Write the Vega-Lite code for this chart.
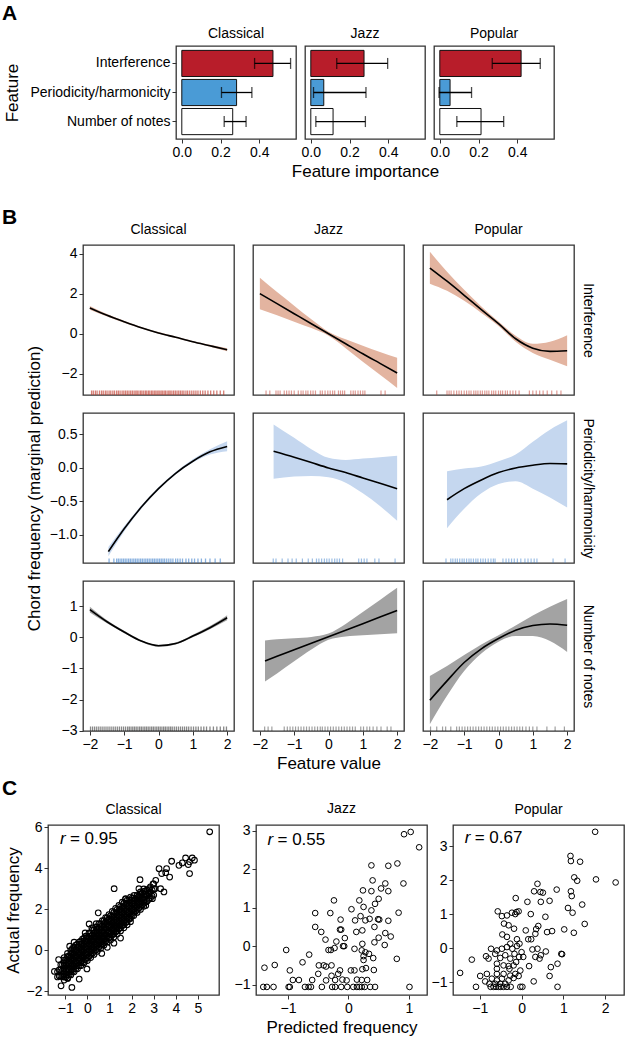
{
"$schema": "https://vega.github.io/schema/vega-lite/v6.json",
"padding": {"left": 2, "top": 3, "right": 0, "bottom": 0},
"background": "white",
"config": {
  "font": "Liberation Sans",
  "view": {"stroke": "#333333", "strokeWidth": 1.3},
  "axis": {"grid": false, "domain": false, "ticks": true, "tickColor": "#333333", "tickSize": 4, "tickWidth": 1, "labelFontSize": 14, "labelColor": "#000000", "labelPadding": 2, "titleFontSize": 17, "titleFontWeight": "normal", "titleColor": "#000000", "labelFlush": false, "labelOverlap": false},
  "title": {"fontSize": 14, "fontWeight": "normal", "offset": 5, "color": "#000000"}
},
"datasets": {
  "bars": [
    {"g":"Classical","f":"Interference","v":0.471,"lo":0.376,"hi":0.562},
    {"g":"Classical","f":"Periodicity/harmonicity","v":0.283,"lo":0.205,"hi":0.362},
    {"g":"Classical","f":"Number of notes","v":0.263,"lo":0.219,"hi":0.332},
    {"g":"Jazz","f":"Interference","v":0.275,"lo":0.134,"hi":0.397},
    {"g":"Jazz","f":"Periodicity/harmonicity","v":0.067,"lo":0.014,"hi":0.285},
    {"g":"Jazz","f":"Number of notes","v":0.115,"lo":0.026,"hi":0.282},
    {"g":"Popular","f":"Interference","v":0.42,"lo":0.271,"hi":0.519},
    {"g":"Popular","f":"Periodicity/harmonicity","v":0.053,"lo":-0.004,"hi":0.164},
    {"g":"Popular","f":"Number of notes","v":0.213,"lo":0.088,"hi":0.33}
  ],
  "cCI": [{"x":-2,"y":1.29,"lo":1.2,"hi":1.38},{"x":-1.5,"y":0.92,"lo":0.86,"hi":0.98},{"x":-1,"y":0.6,"lo":0.55,"hi":0.65},{"x":-0.5,"y":0.3,"lo":0.26,"hi":0.34},{"x":0,"y":0.04,"lo":0,"hi":0.08},{"x":0.5,"y":-0.18,"lo":-0.22,"hi":-0.14},{"x":1,"y":-0.4,"lo":-0.44,"hi":-0.36},{"x":1.5,"y":-0.6,"lo":-0.65,"hi":-0.55},{"x":2,"y":-0.8,"lo":-0.88,"hi":-0.72}],
  "cJI": [{"x":-2,"y":2.0,"lo":1.22,"hi":2.79},{"x":-1.5,"y":1.5,"lo":0.92,"hi":2.08},{"x":-1,"y":1.0,"lo":0.6,"hi":1.4},{"x":-0.5,"y":0.5,"lo":0.28,"hi":0.72},{"x":0,"y":0,"lo":-0.1,"hi":0.1},{"x":0.5,"y":-0.5,"lo":-0.72,"hi":-0.28},{"x":1,"y":-1.0,"lo":-1.4,"hi":-0.6},{"x":1.5,"y":-1.48,"lo":-2.05,"hi":-0.91},{"x":2,"y":-1.96,"lo":-2.71,"hi":-1.2}],
  "cPI": [{"x":-2,"y":3.28,"lo":2.5,"hi":4.09},{"x":-1.5,"y":2.62,"lo":2.14,"hi":3.1},{"x":-1,"y":1.92,"lo":1.64,"hi":2.2},{"x":-0.5,"y":1.2,"lo":1.04,"hi":1.36},{"x":0,"y":0.5,"lo":0.39,"hi":0.61},{"x":0.5,"y":-0.25,"lo":-0.4,"hi":-0.1},{"x":1,"y":-0.72,"lo":-0.96,"hi":-0.5},{"x":1.5,"y":-0.88,"lo":-1.3,"hi":-0.4},{"x":2,"y":-0.85,"lo":-1.62,"hi":-0.08}],
  "cCH": [{"x":-1.46,"y":-1.25,"lo":-1.32,"hi":-1.18},{"x":-1,"y":-0.91,"lo":-0.95,"hi":-0.87},{"x":-0.5,"y":-0.585,"lo":-0.61,"hi":-0.56},{"x":0,"y":-0.31,"lo":-0.33,"hi":-0.29},{"x":0.5,"y":-0.08,"lo":-0.1,"hi":-0.06},{"x":1,"y":0.1,"lo":0.08,"hi":0.13},{"x":1.5,"y":0.24,"lo":0.2,"hi":0.28},{"x":2,"y":0.32,"lo":0.25,"hi":0.4}],
  "cJH": [{"x":-1.6,"y":0.25,"lo":-0.16,"hi":0.65},{"x":-1,"y":0.16,"lo":-0.13,"hi":0.45},{"x":-0.5,"y":0.08,"lo":-0.12,"hi":0.28},{"x":0,"y":0.0,"lo":-0.14,"hi":0.15},{"x":0.5,"y":-0.07,"lo":-0.22,"hi":0.12},{"x":1,"y":-0.15,"lo":-0.38,"hi":0.14},{"x":1.5,"y":-0.23,"lo":-0.57,"hi":0.16},{"x":2,"y":-0.31,"lo":-0.79,"hi":0.18}],
  "cPH": [{"x":-1.5,"y":-0.475,"lo":-0.9,"hi":-0.05},{"x":-1,"y":-0.31,"lo":-0.61,"hi":-0.01},{"x":-0.5,"y":-0.18,"lo":-0.38,"hi":0.02},{"x":0,"y":-0.07,"lo":-0.24,"hi":0.1},{"x":0.5,"y":0.0,"lo":-0.2,"hi":0.2},{"x":1,"y":0.04,"lo":-0.31,"hi":0.39},{"x":1.5,"y":0.065,"lo":-0.44,"hi":0.57},{"x":2,"y":0.06,"lo":-0.59,"hi":0.71}],
  "cCN": [{"x":-2,"y":0.89,"lo":0.8,"hi":0.98},{"x":-1.5,"y":0.5,"lo":0.45,"hi":0.55},{"x":-1,"y":0.17,"lo":0.13,"hi":0.21},{"x":-0.5,"y":-0.12,"lo":-0.15,"hi":-0.09},{"x":0,"y":-0.27,"lo":-0.3,"hi":-0.24},{"x":0.5,"y":-0.2,"lo":-0.23,"hi":-0.17},{"x":1,"y":0.04,"lo":0.0,"hi":0.08},{"x":1.5,"y":0.31,"lo":0.26,"hi":0.36},{"x":2,"y":0.63,"lo":0.55,"hi":0.71}],
  "cJN": [{"x":-1.85,"y":-0.76,"lo":-1.42,"hi":-0.1},{"x":-1.5,"y":-0.61,"lo":-1.16,"hi":-0.06},{"x":-1,"y":-0.4,"lo":-0.77,"hi":-0.03},{"x":-0.5,"y":-0.19,"lo":-0.39,"hi":0.01},{"x":0,"y":0.02,"lo":-0.08,"hi":0.12},{"x":0.5,"y":0.23,"lo":0.03,"hi":0.43},{"x":1,"y":0.44,"lo":0.07,"hi":0.81},{"x":1.5,"y":0.65,"lo":0.1,"hi":1.2},{"x":2,"y":0.86,"lo":0.13,"hi":1.59}],
  "cPN": [{"x":-2,"y":-2.02,"lo":-2.79,"hi":-1.24},{"x":-1.5,"y":-1.4,"lo":-1.88,"hi":-0.92},{"x":-1,"y":-0.81,"lo":-1.08,"hi":-0.57},{"x":-0.5,"y":-0.37,"lo":-0.52,"hi":-0.23},{"x":0,"y":-0.04,"lo":-0.14,"hi":0.07},{"x":0.5,"y":0.23,"lo":0.04,"hi":0.38},{"x":1,"y":0.38,"lo":0.04,"hi":0.7},{"x":1.5,"y":0.43,"lo":-0.12,"hi":0.98},{"x":2,"y":0.39,"lo":-0.47,"hi":1.23}],
  "rCI": [{"x":-1.95},{"x":-1.9},{"x":-1.84},{"x":-1.79},{"x":-1.72},{"x":-1.66},{"x":-1.61},{"x":-1.55},{"x":-1.5},{"x":-1.44},{"x":-1.39},{"x":-1.33},{"x":-1.28},{"x":-1.22},{"x":-1.17},{"x":-1.12},{"x":-1.06},{"x":-1.01},{"x":-0.96},{"x":-0.91},{"x":-0.86},{"x":-0.81},{"x":-0.76},{"x":-0.71},{"x":-0.66},{"x":-0.62},{"x":-0.57},{"x":-0.52},{"x":-0.48},{"x":-0.43},{"x":-0.38},{"x":-0.34},{"x":-0.29},{"x":-0.25},{"x":-0.2},{"x":-0.16},{"x":-0.11},{"x":-0.07},{"x":-0.02},{"x":0.02},{"x":0.07},{"x":0.11},{"x":0.16},{"x":0.2},{"x":0.25},{"x":0.3},{"x":0.34},{"x":0.39},{"x":0.44},{"x":0.49},{"x":0.54},{"x":0.59},{"x":0.64},{"x":0.69},{"x":0.74},{"x":0.8},{"x":0.85},{"x":0.91},{"x":0.97},{"x":1.03},{"x":1.09},{"x":1.15},{"x":1.22},{"x":1.29},{"x":1.36},{"x":1.44},{"x":1.52},{"x":1.61},{"x":1.7},{"x":1.8},{"x":1.9}],
  "rCH": [{"x":-1.44},{"x":-1.3},{"x":-1.22},{"x":-1.17},{"x":-1.12},{"x":-1.07},{"x":-1.02},{"x":-0.97},{"x":-0.92},{"x":-0.87},{"x":-0.82},{"x":-0.77},{"x":-0.72},{"x":-0.67},{"x":-0.62},{"x":-0.57},{"x":-0.52},{"x":-0.47},{"x":-0.42},{"x":-0.37},{"x":-0.32},{"x":-0.27},{"x":-0.22},{"x":-0.17},{"x":-0.12},{"x":-0.07},{"x":-0.02},{"x":0.03},{"x":0.08},{"x":0.13},{"x":0.18},{"x":0.24},{"x":0.3},{"x":0.36},{"x":0.42},{"x":0.5},{"x":0.56},{"x":0.63},{"x":0.7},{"x":0.8},{"x":0.88},{"x":0.97},{"x":1.05},{"x":1.15},{"x":1.25},{"x":1.37},{"x":1.5},{"x":1.65},{"x":1.8}],
  "rCN": [{"x":-1.98},{"x":-1.92},{"x":-1.86},{"x":-1.8},{"x":-1.74},{"x":-1.68},{"x":-1.62},{"x":-1.56},{"x":-1.5},{"x":-1.44},{"x":-1.38},{"x":-1.32},{"x":-1.26},{"x":-1.2},{"x":-1.14},{"x":-1.08},{"x":-1.02},{"x":-0.96},{"x":-0.9},{"x":-0.85},{"x":-0.8},{"x":-0.75},{"x":-0.7},{"x":-0.65},{"x":-0.6},{"x":-0.55},{"x":-0.5},{"x":-0.45},{"x":-0.4},{"x":-0.35},{"x":-0.3},{"x":-0.25},{"x":-0.2},{"x":-0.15},{"x":-0.1},{"x":-0.05},{"x":0.0},{"x":0.05},{"x":0.1},{"x":0.15},{"x":0.2},{"x":0.25},{"x":0.3},{"x":0.35},{"x":0.4},{"x":0.46},{"x":0.52},{"x":0.58},{"x":0.64},{"x":0.7},{"x":0.76},{"x":0.82},{"x":0.88},{"x":0.95},{"x":1.02},{"x":1.09},{"x":1.16},{"x":1.24},{"x":1.32},{"x":1.4},{"x":1.5},{"x":1.6},{"x":1.7},{"x":1.8},{"x":1.9},{"x":1.98}],
  "rJI": [{"x":-1.82},{"x":-1.71},{"x":-1.53},{"x":-1.47},{"x":-1.41},{"x":-1.29},{"x":-1.22},{"x":-1.15},{"x":-1.08},{"x":-1.0},{"x":-0.88},{"x":-0.8},{"x":-0.74},{"x":-0.66},{"x":-0.6},{"x":-0.52},{"x":-0.45},{"x":-0.38},{"x":-0.24},{"x":-0.18},{"x":-0.1},{"x":-0.02},{"x":0.05},{"x":0.12},{"x":0.18},{"x":0.29},{"x":0.35},{"x":0.41},{"x":0.47},{"x":0.65},{"x":0.72},{"x":0.78},{"x":0.86},{"x":0.93},{"x":1.0},{"x":1.06},{"x":1.53},{"x":1.65}],
  "rJH": [{"x":-1.61},{"x":-1.53},{"x":-1.35},{"x":-1.18},{"x":-1.06},{"x":-0.94},{"x":-0.76},{"x":-0.59},{"x":-0.47},{"x":-0.35},{"x":-0.28},{"x":-0.2},{"x":-0.12},{"x":-0.05},{"x":0.02},{"x":0.1},{"x":0.18},{"x":0.25},{"x":0.32},{"x":0.41},{"x":0.88},{"x":0.96},{"x":1.04},{"x":1.12},{"x":1.35},{"x":1.47},{"x":1.94}],
  "rJN": [{"x":-1.86},{"x":-1.76},{"x":-1.65},{"x":-1.29},{"x":-1.2},{"x":-1.12},{"x":-1.04},{"x":-0.96},{"x":-0.88},{"x":-0.8},{"x":-0.72},{"x":-0.64},{"x":-0.56},{"x":-0.48},{"x":-0.4},{"x":-0.32},{"x":-0.24},{"x":-0.18},{"x":-0.1},{"x":-0.02},{"x":0.06},{"x":0.14},{"x":0.22},{"x":0.3},{"x":0.38},{"x":0.46},{"x":0.54},{"x":0.62},{"x":0.7},{"x":0.78},{"x":0.94},{"x":1.02},{"x":1.12},{"x":1.2},{"x":1.3},{"x":1.41},{"x":1.53},{"x":1.71},{"x":1.82}],
  "rPI": [{"x":-1.8},{"x":-1.5},{"x":-1.44},{"x":-1.38},{"x":-1.3},{"x":-1.22},{"x":-1.15},{"x":-1.08},{"x":-1.0},{"x":-0.93},{"x":-0.86},{"x":-0.8},{"x":-0.72},{"x":-0.66},{"x":-0.6},{"x":-0.53},{"x":-0.47},{"x":-0.4},{"x":-0.34},{"x":-0.28},{"x":-0.2},{"x":-0.14},{"x":-0.08},{"x":0.0},{"x":0.06},{"x":0.12},{"x":0.2},{"x":0.26},{"x":0.34},{"x":0.42},{"x":0.5},{"x":0.6},{"x":0.9},{"x":1.0},{"x":1.1},{"x":1.2},{"x":1.3},{"x":1.42},{"x":1.55},{"x":1.7},{"x":1.82}],
  "rPH": [{"x":-1.53},{"x":-1.39},{"x":-1.33},{"x":-1.26},{"x":-1.2},{"x":-1.13},{"x":-1.06},{"x":-1.0},{"x":-0.93},{"x":-0.86},{"x":-0.8},{"x":-0.73},{"x":-0.66},{"x":-0.6},{"x":-0.52},{"x":-0.45},{"x":-0.38},{"x":-0.3},{"x":-0.22},{"x":-0.15},{"x":-0.1},{"x":0.13},{"x":0.22},{"x":0.3},{"x":0.38},{"x":0.46},{"x":0.55},{"x":0.65},{"x":0.77},{"x":0.86},{"x":0.95},{"x":1.04},{"x":1.12},{"x":1.59},{"x":1.94}],
  "rPN": [{"x":-1.98},{"x":-1.8},{"x":-1.63},{"x":-1.54},{"x":-1.39},{"x":-1.22},{"x":-1.14},{"x":-1.06},{"x":-0.98},{"x":-0.9},{"x":-0.82},{"x":-0.74},{"x":-0.66},{"x":-0.58},{"x":-0.5},{"x":-0.42},{"x":-0.34},{"x":-0.26},{"x":-0.18},{"x":-0.1},{"x":-0.02},{"x":0.06},{"x":0.14},{"x":0.22},{"x":0.3},{"x":0.38},{"x":0.46},{"x":0.54},{"x":0.62},{"x":0.7},{"x":0.8},{"x":0.9},{"x":1.0},{"x":1.12},{"x":1.41},{"x":1.65},{"x":1.92}],
  "sC": [
    {"x":-1.35,"y":-1.3},{"x":-1.35,"y":-1.05},
    {"x":-1.2,"y":-1.25},{"x":-1.2,"y":-0.95},{"x":-1.2,"y":-0.7},
    {"x":-1.05,"y":-1.45},{"x":-1.05,"y":-1.15},{"x":-1.05,"y":-0.88},{"x":-1.05,"y":-0.6},{"x":-1.05,"y":-0.35},
    {"x":-0.9,"y":-1.35},{"x":-0.9,"y":-1.05},{"x":-0.9,"y":-0.74},{"x":-0.9,"y":-0.45},{"x":-0.9,"y":-0.15},
    {"x":-0.75,"y":-1.2},{"x":-0.75,"y":-0.9},{"x":-0.75,"y":-0.6},{"x":-0.75,"y":-0.3},{"x":-0.75,"y":0.0},
    {"x":-0.6,"y":-1.05},{"x":-0.6,"y":-0.75},{"x":-0.6,"y":-0.45},{"x":-0.6,"y":-0.15},{"x":-0.6,"y":0.15},
    {"x":-0.45,"y":-0.9},{"x":-0.45,"y":-0.6},{"x":-0.45,"y":-0.3},{"x":-0.45,"y":0.0},{"x":-0.45,"y":0.3},
    {"x":-0.3,"y":-0.75},{"x":-0.3,"y":-0.45},{"x":-0.3,"y":-0.15},{"x":-0.3,"y":0.15},{"x":-0.3,"y":0.45},
    {"x":-0.15,"y":-0.6},{"x":-0.15,"y":-0.3},{"x":-0.15,"y":0.0},{"x":-0.15,"y":0.3},{"x":-0.15,"y":0.6},
    {"x":0,"y":-0.5},{"x":0,"y":-0.2},{"x":0,"y":0.1},{"x":0,"y":0.4},{"x":0,"y":0.7},
    {"x":0.15,"y":-0.35},{"x":0.15,"y":-0.05},{"x":0.15,"y":0.25},{"x":0.15,"y":0.55},{"x":0.15,"y":0.85},
    {"x":0.3,"y":-0.2},{"x":0.3,"y":0.1},{"x":0.3,"y":0.4},{"x":0.3,"y":0.7},{"x":0.3,"y":1.0},
    {"x":0.45,"y":-0.05},{"x":0.45,"y":0.25},{"x":0.45,"y":0.55},{"x":0.45,"y":0.85},{"x":0.45,"y":1.15},
    {"x":0.6,"y":0.1},{"x":0.6,"y":0.4},{"x":0.6,"y":0.7},{"x":0.6,"y":1.0},{"x":0.6,"y":1.3},
    {"x":0.75,"y":0.25},{"x":0.75,"y":0.55},{"x":0.75,"y":0.85},{"x":0.75,"y":1.15},{"x":0.75,"y":1.45},
    {"x":0.9,"y":0.4},{"x":0.9,"y":0.7},{"x":0.9,"y":1.0},{"x":0.9,"y":1.3},{"x":0.9,"y":1.6},
    {"x":1.05,"y":0.5},{"x":1.05,"y":0.8},{"x":1.05,"y":1.1},{"x":1.05,"y":1.4},{"x":1.05,"y":1.7},
    {"x":1.2,"y":0.65},{"x":1.2,"y":0.95},{"x":1.2,"y":1.25},{"x":1.2,"y":1.55},{"x":1.2,"y":1.85},
    {"x":1.35,"y":0.8},{"x":1.35,"y":1.1},{"x":1.35,"y":1.4},{"x":1.35,"y":1.7},{"x":1.35,"y":2.0},
    {"x":1.5,"y":0.95},{"x":1.5,"y":1.25},{"x":1.5,"y":1.55},{"x":1.5,"y":1.85},{"x":1.5,"y":2.15},
    {"x":1.65,"y":1.1},{"x":1.65,"y":1.4},{"x":1.65,"y":1.7},{"x":1.65,"y":2.0},{"x":1.65,"y":2.3},
    {"x":1.8,"y":1.25},{"x":1.8,"y":1.55},{"x":1.8,"y":1.85},{"x":1.8,"y":2.15},{"x":1.8,"y":2.45},
    {"x":1.95,"y":1.4},{"x":1.95,"y":1.7},{"x":1.95,"y":2.0},{"x":1.95,"y":2.3},{"x":1.95,"y":2.6},
    {"x":2.1,"y":1.7},{"x":2.1,"y":2.0},{"x":2.1,"y":2.3},{"x":2.1,"y":2.55},
    {"x":2.25,"y":1.85},{"x":2.25,"y":2.15},{"x":2.25,"y":2.45},{"x":2.25,"y":2.7},
    {"x":2.4,"y":2.0},{"x":2.4,"y":2.3},{"x":2.4,"y":2.6},{"x":2.4,"y":2.85},
    {"x":2.55,"y":2.15},{"x":2.55,"y":2.45},{"x":2.55,"y":2.75},{"x":2.55,"y":3.0},
    {"x":2.7,"y":2.4},{"x":2.7,"y":2.7},{"x":2.7,"y":2.95},
    {"x":2.85,"y":2.55},{"x":2.85,"y":2.85},{"x":2.85,"y":3.1},
    {"x":3.0,"y":2.7},{"x":3.0,"y":3.0},{"x":3.0,"y":3.25},
    {"x":-1.275,"y":-1.25},{"x":-1.275,"y":-0.95},
    {"x":-1.125,"y":-1.3},{"x":-1.125,"y":-1.0},{"x":-1.125,"y":-0.7},
    {"x":-0.975,"y":-1.3},{"x":-0.975,"y":-1.0},{"x":-0.975,"y":-0.73},{"x":-0.975,"y":-0.45},
    {"x":-0.825,"y":-1.2},{"x":-0.825,"y":-0.9},{"x":-0.825,"y":-0.6},{"x":-0.825,"y":-0.3},
    {"x":-0.675,"y":-1.05},{"x":-0.675,"y":-0.75},{"x":-0.675,"y":-0.45},{"x":-0.675,"y":-0.15},{"x":-0.675,"y":0.1},
    {"x":-0.525,"y":-0.9},{"x":-0.525,"y":-0.6},{"x":-0.525,"y":-0.3},{"x":-0.525,"y":0.0},{"x":-0.525,"y":0.25},
    {"x":-0.375,"y":-0.75},{"x":-0.375,"y":-0.45},{"x":-0.375,"y":-0.15},{"x":-0.375,"y":0.15},{"x":-0.375,"y":0.4},
    {"x":-0.225,"y":-0.6},{"x":-0.225,"y":-0.3},{"x":-0.225,"y":0.0},{"x":-0.225,"y":0.3},{"x":-0.225,"y":0.55},
    {"x":-0.075,"y":-0.45},{"x":-0.075,"y":-0.15},{"x":-0.075,"y":0.15},{"x":-0.075,"y":0.45},{"x":-0.075,"y":0.7},
    {"x":0.075,"y":-0.3},{"x":0.075,"y":0.0},{"x":0.075,"y":0.3},{"x":0.075,"y":0.6},{"x":0.075,"y":0.85},
    {"x":0.225,"y":-0.15},{"x":0.225,"y":0.15},{"x":0.225,"y":0.45},{"x":0.225,"y":0.75},{"x":0.225,"y":1.0},
    {"x":0.375,"y":0.0},{"x":0.375,"y":0.3},{"x":0.375,"y":0.6},{"x":0.375,"y":0.9},{"x":0.375,"y":1.15},
    {"x":0.525,"y":0.15},{"x":0.525,"y":0.45},{"x":0.525,"y":0.75},{"x":0.525,"y":1.05},{"x":0.525,"y":1.3},
    {"x":0.675,"y":0.3},{"x":0.675,"y":0.6},{"x":0.675,"y":0.9},{"x":0.675,"y":1.2},{"x":0.675,"y":1.45},
    {"x":0.825,"y":0.45},{"x":0.825,"y":0.75},{"x":0.825,"y":1.05},{"x":0.825,"y":1.35},{"x":0.825,"y":1.6},
    {"x":0.975,"y":0.6},{"x":0.975,"y":0.9},{"x":0.975,"y":1.2},{"x":0.975,"y":1.5},{"x":0.975,"y":1.75},
    {"x":1.125,"y":0.75},{"x":1.125,"y":1.05},{"x":1.125,"y":1.35},{"x":1.125,"y":1.65},{"x":1.125,"y":1.9},
    {"x":1.275,"y":0.9},{"x":1.275,"y":1.2},{"x":1.275,"y":1.5},{"x":1.275,"y":1.8},{"x":1.275,"y":2.05},
    {"x":1.425,"y":1.05},{"x":1.425,"y":1.35},{"x":1.425,"y":1.65},{"x":1.425,"y":1.95},{"x":1.425,"y":2.2},
    {"x":1.575,"y":1.2},{"x":1.575,"y":1.5},{"x":1.575,"y":1.8},{"x":1.575,"y":2.1},{"x":1.575,"y":2.35},
    {"x":1.725,"y":1.35},{"x":1.725,"y":1.65},{"x":1.725,"y":1.95},{"x":1.725,"y":2.25},{"x":1.725,"y":2.5},
    {"x":1.875,"y":1.55},{"x":1.875,"y":1.85},{"x":1.875,"y":2.15},{"x":1.875,"y":2.45},
    {"x":2.025,"y":1.7},{"x":2.025,"y":2.0},{"x":2.025,"y":2.3},{"x":2.025,"y":2.55},
    {"x":2.175,"y":1.9},{"x":2.175,"y":2.2},{"x":2.175,"y":2.5},
    {"x":2.325,"y":2.05},{"x":2.325,"y":2.35},{"x":2.325,"y":2.65},
    {"x":2.475,"y":2.2},{"x":2.475,"y":2.5},{"x":2.475,"y":2.8},
    {"x":2.625,"y":2.35},{"x":2.625,"y":2.65},{"x":2.625,"y":2.9},
    {"x":2.775,"y":2.5},{"x":2.775,"y":2.8},
    {"x":2.925,"y":2.65},{"x":2.925,"y":2.95},
    {"x":-1.05,"y":-1.3},{"x":-1.05,"y":-1.02},{"x":-1.05,"y":-0.74},{"x":-1.05,"y":-0.48},
    {"x":-0.9,"y":-1.2},{"x":-0.9,"y":-0.9},{"x":-0.9,"y":-0.6},{"x":-0.9,"y":-0.3},
    {"x":-0.75,"y":-1.05},{"x":-0.75,"y":-0.75},{"x":-0.75,"y":-0.45},{"x":-0.75,"y":-0.15},
    {"x":-0.6,"y":-0.9},{"x":-0.6,"y":-0.6},{"x":-0.6,"y":-0.3},{"x":-0.6,"y":0.0},
    {"x":-0.45,"y":-0.75},{"x":-0.45,"y":-0.45},{"x":-0.45,"y":-0.15},{"x":-0.45,"y":0.15},
    {"x":-0.3,"y":-0.6},{"x":-0.3,"y":-0.3},{"x":-0.3,"y":0.0},{"x":-0.3,"y":0.3},
    {"x":-0.15,"y":-0.45},{"x":-0.15,"y":-0.15},{"x":-0.15,"y":0.15},{"x":-0.15,"y":0.45},
    {"x":0,"y":-0.35},{"x":0,"y":-0.05},{"x":0,"y":0.25},{"x":0,"y":0.55},
    {"x":0.15,"y":-0.2},{"x":0.15,"y":0.1},{"x":0.15,"y":0.4},{"x":0.15,"y":0.7},
    {"x":0.3,"y":-0.05},{"x":0.3,"y":0.25},{"x":0.3,"y":0.55},{"x":0.3,"y":0.85},
    {"x":0.45,"y":0.1},{"x":0.45,"y":0.4},{"x":0.45,"y":0.7},{"x":0.45,"y":1.0},
    {"x":0.6,"y":0.25},{"x":0.6,"y":0.55},{"x":0.6,"y":0.85},{"x":0.6,"y":1.15},
    {"x":0.75,"y":0.4},{"x":0.75,"y":0.7},{"x":0.75,"y":1.0},{"x":0.75,"y":1.3},
    {"x":0.9,"y":0.55},{"x":0.9,"y":0.85},{"x":0.9,"y":1.15},{"x":0.9,"y":1.45},
    {"x":1.05,"y":0.65},{"x":1.05,"y":0.95},{"x":1.05,"y":1.25},{"x":1.05,"y":1.55},
    {"x":1.2,"y":0.8},{"x":1.2,"y":1.1},{"x":1.2,"y":1.4},{"x":1.2,"y":1.7},
    {"x":1.35,"y":0.95},{"x":1.35,"y":1.25},{"x":1.35,"y":1.55},{"x":1.35,"y":1.85},
    {"x":1.5,"y":1.1},{"x":1.5,"y":1.4},{"x":1.5,"y":1.7},{"x":1.5,"y":2.0},
    {"x":1.65,"y":1.25},{"x":1.65,"y":1.55},{"x":1.65,"y":1.85},{"x":1.65,"y":2.15},
    {"x":1.8,"y":1.4},{"x":1.8,"y":1.7},{"x":1.8,"y":2.0},{"x":1.8,"y":2.3},
    {"x":1.95,"y":1.55},{"x":1.95,"y":1.85},{"x":1.95,"y":2.15},{"x":1.95,"y":2.45},
    {"x":2.1,"y":1.85},{"x":2.1,"y":2.15},{"x":2.1,"y":2.42},
    {"x":2.25,"y":2.0},{"x":2.25,"y":2.3},{"x":2.25,"y":2.58},
    {"x":2.4,"y":2.15},{"x":2.4,"y":2.45},{"x":2.4,"y":2.72},
    {"x":2.55,"y":2.3},{"x":2.55,"y":2.6},{"x":2.55,"y":2.88},
    {"x":5.53,"y":5.79},{"x":4.44,"y":4.51},{"x":4.74,"y":4.51},{"x":4.84,"y":4.4},{"x":4.62,"y":4.32},{"x":4.56,"y":4.19},{"x":4.62,"y":3.75},{"x":4.14,"y":4.15},{"x":4.29,"y":4.27},{"x":3.81,"y":4.35},{"x":3.58,"y":3.99},{"x":3.54,"y":3.79},{"x":3.72,"y":3.58},{"x":3.36,"y":3.75},{"x":3.24,"y":3.99},{"x":3.09,"y":3.42},{"x":2.97,"y":3.25},{"x":3.31,"y":3.01},{"x":3.46,"y":2.85},{"x":2.94,"y":2.52},{"x":3.06,"y":3.01},{"x":2.79,"y":3.01},{"x":2.38,"y":3.45},{"x":1.21,"y":3.01},{"x":0.49,"y":1.83},{"x":0.08,"y":1.29},{"x":-0.02,"y":-0.91},{"x":-1.49,"y":-1.03},{"x":-1.19,"y":-1.73},{"x":-0.7,"y":-1.81},{"x":-0.89,"y":-1.37},{"x":-0.37,"y":-1.4},{"x":1.89,"y":1.54},{"x":1.73,"y":2.52},{"x":2.11,"y":2.68},{"x":2.64,"y":2.19},{"x":2.64,"y":2.76},{"x":2.33,"y":3.01},
    {"x":-0.1,"y":0.85},{"x":0.2,"y":1.1},{"x":0.4,"y":1.3},{"x":0.65,"y":-0.15},{"x":0.9,"y":0.15},{"x":-0.6,"y":0.4},{"x":-0.8,"y":0.2},{"x":1.2,"y":0.35},{"x":1.5,"y":0.6},{"x":-1.3,"y":-0.45}
  ],
  "sJ": [
    {"x":0.92,"y":2.91},{"x":1.03,"y":2.97},{"x":1.17,"y":2.57},{"x":0.38,"y":2.10},{"x":0.66,"y":2.09},{"x":0.81,"y":2.15},{"x":0.40,"y":1.71},{"x":0.91,"y":1.63},{"x":0.61,"y":1.63},{"x":0.24,"y":1.45},{"x":0.38,"y":1.43},{"x":0.54,"y":1.50},{"x":0.66,"y":1.43},{"x":-0.24,"y":1.19},{"x":0.18,"y":1.19},{"x":0.50,"y":1.23},{"x":0.44,"y":1.10},{"x":0.05,"y":0.96},{"x":0.25,"y":1.02},{"x":0.38,"y":0.93},{"x":-0.55,"y":0.86},{"x":-0.30,"y":0.86},{"x":0.20,"y":0.78},{"x":0.35,"y":0.71},{"x":0.49,"y":0.70},{"x":0.51,"y":0.69},{"x":0.83,"y":0.87},{"x":-0.13,"y":0.69},{"x":0.11,"y":0.67},{"x":0.28,"y":0.67},{"x":0.66,"y":0.66},{"x":-0.55,"y":0.50},{"x":-0.45,"y":0.37},{"x":-0.14,"y":0.43},{"x":-0.12,"y":0.43},{"x":0.23,"y":0.41},{"x":0.43,"y":0.50},{"x":0.61,"y":0.34},{"x":0.70,"y":0.25},{"x":0.13,"y":0.37},{"x":0.50,"y":0.22},{"x":-0.38,"y":0.17},{"x":-0.20,"y":0.12},{"x":-0.06,"y":0.21},{"x":0.23,"y":0.06},{"x":0.60,"y":0.03},{"x":0.43,"y":0.10},{"x":-1.03,"y":-0.10},{"x":-0.33,"y":-0.10},{"x":-0.29,"y":-0.10},{"x":-0.23,"y":-0.05},{"x":-0.09,"y":0.00},{"x":-0.07,"y":0.00},{"x":0.10,"y":-0.07},{"x":0.22,"y":-0.11},{"x":0.28,"y":-0.16},{"x":-0.65,"y":-0.22},{"x":0.25,"y":-0.26},{"x":0.34,"y":-0.20},{"x":0.41,"y":-0.31},{"x":0.25,"y":-0.36},{"x":0.80,"y":-0.33},{"x":-1.39,"y":-0.56},{"x":-1.22,"y":-0.49},{"x":-0.76,"y":-0.42},{"x":-0.97,"y":-0.63},{"x":-0.49,"y":-0.50},{"x":-0.41,"y":-0.50},{"x":-0.37,"y":-0.53},{"x":-0.28,"y":-0.50},{"x":-0.14,"y":-0.63},{"x":0.04,"y":-0.63},{"x":0.10,"y":-0.63},{"x":0.23,"y":-0.60},{"x":0.29,"y":-0.57},{"x":0.42,"y":-0.62},{"x":-0.92,"y":-0.88},{"x":-0.82,"y":-0.88},{"x":-0.60,"y":-0.88},{"x":-0.37,"y":-0.89},{"x":-0.22,"y":-0.88},{"x":-0.10,"y":-0.87},{"x":-0.03,"y":-0.89},{"x":0.14,"y":-0.87},{"x":0.22,"y":-0.88},{"x":0.31,"y":-0.88},{"x":-0.50,"y":-0.72},{"x":-0.28,"y":-0.77},{"x":-0.17,"y":-0.72},
    {"x":-1.41,"y":-1.06},{"x":-1.35,"y":-1.06},{"x":-1.24,"y":-1.06},{"x":-0.99,"y":-1.06},{"x":-0.97,"y":-1.06},{"x":-0.72,"y":-1.06},{"x":-0.66,"y":-1.06},{"x":-0.62,"y":-1.06},{"x":-0.44,"y":-1.06},{"x":-0.27,"y":-1.06},{"x":-0.22,"y":-1.06},{"x":-0.12,"y":-1.06},{"x":-0.02,"y":-1.06},{"x":0.08,"y":-1.06},{"x":0.14,"y":-1.06},{"x":0.18,"y":-1.06},{"x":0.22,"y":-1.06},{"x":0.27,"y":-1.06},{"x":0.36,"y":-1.06},{"x":0.44,"y":-1.06},{"x":1.01,"y":-1.06}
  ],
  "sP": [
    {"x":1.76,"y":3.42},{"x":1.17,"y":2.71},{"x":1.18,"y":2.56},{"x":1.40,"y":2.54},{"x":1.26,"y":2.08},{"x":1.33,"y":1.98},{"x":1.78,"y":2.02},{"x":2.25,"y":1.93},{"x":0.38,"y":1.89},{"x":0.84,"y":1.72},{"x":0.30,"y":1.67},{"x":0.45,"y":1.65},{"x":0.51,"y":1.63},{"x":1.18,"y":1.67},{"x":1.20,"y":1.53},{"x":-0.14,"y":1.47},{"x":0.14,"y":1.36},{"x":0.46,"y":1.36},{"x":0.67,"y":1.39},{"x":1.45,"y":1.28},{"x":-0.57,"y":1.08},{"x":-0.23,"y":1.04},{"x":-0.12,"y":1.06},{"x":-0.07,"y":1.08},{"x":-0.47,"y":0.94},{"x":-0.35,"y":0.96},{"x":-0.15,"y":1.00},{"x":0.22,"y":1.00},{"x":0.57,"y":0.92},{"x":1.11,"y":1.18},{"x":1.22,"y":1.04},{"x":1.51,"y":0.71},{"x":-0.42,"y":0.72},{"x":-0.31,"y":0.67},{"x":-0.18,"y":0.57},{"x":0.10,"y":0.52},{"x":0.35,"y":0.56},{"x":0.40,"y":0.65},{"x":0.61,"y":0.47},{"x":0.73,"y":0.50},{"x":1.02,"y":0.55},{"x":1.25,"y":0.45},{"x":-0.46,"y":0.40},{"x":-0.35,"y":0.33},{"x":-0.11,"y":0.26},{"x":0.16,"y":0.26},{"x":0.23,"y":0.26},{"x":0.33,"y":0.42},{"x":-0.73,"y":-0.02},{"x":-0.59,"y":-0.07},{"x":-0.47,"y":-0.02},{"x":-0.35,"y":0.03},{"x":-0.27,"y":0.13},{"x":-0.22,"y":-0.02},{"x":-0.11,"y":0.06},{"x":-0.05,"y":0.13},{"x":0.26,"y":-0.04},{"x":0.38,"y":-0.02},{"x":0.58,"y":-0.10},{"x":-0.85,"y":-0.24},{"x":-0.79,"y":-0.31},{"x":-0.63,"y":-0.17},{"x":-0.51,"y":-0.29},{"x":-0.39,"y":-0.21},{"x":-0.27,"y":-0.31},{"x":-0.17,"y":-0.17},{"x":0.00,"y":-0.12},{"x":0.04,"y":-0.26},{"x":0.33,"y":-0.26},{"x":0.43,"y":-0.31},{"x":0.46,"y":-0.21},{"x":0.95,"y":-0.17},{"x":0.97,"y":-0.18},{"x":-1.19,"y":-0.34},{"x":-0.59,"y":-0.46},{"x":-0.43,"y":-0.51},{"x":-0.31,"y":-0.53},{"x":-0.13,"y":-0.41},{"x":0.18,"y":-0.53},{"x":0.70,"y":-0.56},{"x":0.86,"y":-0.46},{"x":-1.47,"y":-0.73},{"x":-0.99,"y":-0.82},{"x":-0.83,"y":-0.76},{"x":-0.59,"y":-0.76},{"x":-0.43,"y":-0.76},{"x":-0.27,"y":-0.81},{"x":-0.15,"y":-0.76},{"x":-0.07,"y":-0.82},{"x":0.29,"y":-0.98},{"x":0.67,"y":-0.82},{"x":-0.87,"y":-0.98},{"x":-0.71,"y":-0.90},{"x":-0.59,"y":-0.95},{"x":-0.47,"y":-0.90},{"x":-0.31,"y":-0.95},{"x":-0.19,"y":-0.88},{"x":-1.09,"y":-1.14},{"x":-0.74,"y":-1.14},{"x":-0.67,"y":-1.14},{"x":-0.61,"y":-1.14},{"x":-0.55,"y":-1.14},{"x":-0.50,"y":-1.14},{"x":-0.43,"y":-1.14},{"x":-0.35,"y":-1.14},{"x":-0.26,"y":-1.14},{"x":-0.03,"y":-1.14},{"x":0.02,"y":-1.14},{"x":0.86,"y":-1.14},{"x":-0.77,"y":-1.05},{"x":-0.63,"y":-1.05},{"x":-0.51,"y":-1.05},{"x":-0.39,"y":-1.05},{"x":-0.59,"y":-0.61},{"x":-0.29,"y":-0.61},{"x":-0.03,"y":-0.66},{"x":-0.19,"y":-0.51},{"x":-0.06,"y":-0.26}
  ],
  "tC": [{"sym":"r","t":"= 0.95"}],
  "tJ": [{"sym":"r","t":"= 0.55"}],
  "tP": [{"sym":"r","t":"= 0.67"}]
},
"spacing": 6,
"vconcat": [
  {
    "title": {"text": "A", "anchor": "start", "fontSize": 21, "fontWeight": "bold", "offset": 2},
    "spacing": 0,
    "hconcat": [
      {"width": 1, "height": 155, "data": {"values": []}, "mark": "point", "view": {"stroke": null}},
      {"spacing": 9, "bounds": "flush", "hconcat": [
        {"title": "Classical", "width": 120, "height": 93, "data": {"name": "bars"}, "transform": [{"filter": "datum.g == 'Classical'"}],
         "layer": [
          {"mark": {"type": "bar", "stroke": "#111111", "strokeWidth": 1},
           "encoding": {
             "y": {"field": "f", "type": "nominal", "sort": ["Interference","Periodicity/harmonicity","Number of notes"], "scale": {"paddingInner": 0.1, "paddingOuter": 0.15}, "axis": {"title": "Feature", "titlePadding": 8}},
             "x": {"field": "v", "type": "quantitative", "scale": {"domain": [-0.03, 0.59], "nice": false, "zero": false}, "axis": {"values": [0, 0.2, 0.4], "format": ".1f", "title": null}},
             "x2": {"datum": 0},
             "color": {"field": "f", "type": "nominal", "scale": {"domain": ["Interference","Periodicity/harmonicity","Number of notes"], "range": ["#b81d2a","#4a9bd6","#ffffff"]}, "legend": null}}},
          {"mark": {"type": "rule", "color": "#000000", "strokeWidth": 1.3},
           "encoding": {"y": {"field": "f", "type": "nominal", "sort": ["Interference","Periodicity/harmonicity","Number of notes"], "axis": {"title": "Feature", "titlePadding": 8}}, "x": {"field": "lo", "type": "quantitative", "axis": {"values": [0, 0.2, 0.4], "format": ".1f", "title": null}}, "x2": {"field": "hi"}}},
          {"mark": {"type": "tick", "color": "#000000", "thickness": 1.3, "size": 11, "orient": "vertical"},
           "encoding": {"y": {"field": "f", "type": "nominal", "sort": ["Interference","Periodicity/harmonicity","Number of notes"], "axis": {"title": "Feature", "titlePadding": 8}}, "x": {"field": "lo", "type": "quantitative", "axis": {"values": [0, 0.2, 0.4], "format": ".1f", "title": null}}}},
          {"mark": {"type": "tick", "color": "#000000", "thickness": 1.3, "size": 11, "orient": "vertical"},
           "encoding": {"y": {"field": "f", "type": "nominal", "sort": ["Interference","Periodicity/harmonicity","Number of notes"], "axis": {"title": "Feature", "titlePadding": 8}}, "x": {"field": "hi", "type": "quantitative", "axis": {"values": [0, 0.2, 0.4], "format": ".1f", "title": null}}}}
         ]},
        {"title": "Jazz", "width": 120, "height": 93, "data": {"name": "bars"}, "transform": [{"filter": "datum.g == 'Jazz'"}],
         "layer": [
          {"mark": {"type": "bar", "stroke": "#111111", "strokeWidth": 1},
           "encoding": {
             "y": {"field": "f", "type": "nominal", "sort": ["Interference","Periodicity/harmonicity","Number of notes"], "scale": {"paddingInner": 0.1, "paddingOuter": 0.15}, "axis": null},
             "x": {"field": "v", "type": "quantitative", "scale": {"domain": [-0.03, 0.59], "nice": false, "zero": false}, "axis": {"values": [0, 0.2, 0.4], "format": ".1f", "title": "Feature importance"}},
             "x2": {"datum": 0},
             "color": {"field": "f", "type": "nominal", "scale": {"domain": ["Interference","Periodicity/harmonicity","Number of notes"], "range": ["#b81d2a","#4a9bd6","#ffffff"]}, "legend": null}}},
          {"mark": {"type": "rule", "color": "#000000", "strokeWidth": 1.3},
           "encoding": {"y": {"field": "f", "type": "nominal", "sort": ["Interference","Periodicity/harmonicity","Number of notes"], "axis": null}, "x": {"field": "lo", "type": "quantitative", "axis": {"values": [0, 0.2, 0.4], "format": ".1f", "title": "Feature importance"}}, "x2": {"field": "hi"}}},
          {"mark": {"type": "tick", "color": "#000000", "thickness": 1.3, "size": 11, "orient": "vertical"},
           "encoding": {"y": {"field": "f", "type": "nominal", "sort": ["Interference","Periodicity/harmonicity","Number of notes"], "axis": null}, "x": {"field": "lo", "type": "quantitative", "axis": {"values": [0, 0.2, 0.4], "format": ".1f", "title": "Feature importance"}}}},
          {"mark": {"type": "tick", "color": "#000000", "thickness": 1.3, "size": 11, "orient": "vertical"},
           "encoding": {"y": {"field": "f", "type": "nominal", "sort": ["Interference","Periodicity/harmonicity","Number of notes"], "axis": null}, "x": {"field": "hi", "type": "quantitative", "axis": {"values": [0, 0.2, 0.4], "format": ".1f", "title": "Feature importance"}}}}
         ]},
        {"title": "Popular", "width": 120, "height": 93, "data": {"name": "bars"}, "transform": [{"filter": "datum.g == 'Popular'"}],
         "layer": [
          {"mark": {"type": "bar", "stroke": "#111111", "strokeWidth": 1},
           "encoding": {
             "y": {"field": "f", "type": "nominal", "sort": ["Interference","Periodicity/harmonicity","Number of notes"], "scale": {"paddingInner": 0.1, "paddingOuter": 0.15}, "axis": null},
             "x": {"field": "v", "type": "quantitative", "scale": {"domain": [-0.03, 0.59], "nice": false, "zero": false}, "axis": {"values": [0, 0.2, 0.4], "format": ".1f", "title": null}},
             "x2": {"datum": 0},
             "color": {"field": "f", "type": "nominal", "scale": {"domain": ["Interference","Periodicity/harmonicity","Number of notes"], "range": ["#b81d2a","#4a9bd6","#ffffff"]}, "legend": null}}},
          {"mark": {"type": "rule", "color": "#000000", "strokeWidth": 1.3},
           "encoding": {"y": {"field": "f", "type": "nominal", "sort": ["Interference","Periodicity/harmonicity","Number of notes"], "axis": null}, "x": {"field": "lo", "type": "quantitative", "axis": {"values": [0, 0.2, 0.4], "format": ".1f", "title": null}}, "x2": {"field": "hi"}}},
          {"mark": {"type": "tick", "color": "#000000", "thickness": 1.3, "size": 11, "orient": "vertical"},
           "encoding": {"y": {"field": "f", "type": "nominal", "sort": ["Interference","Periodicity/harmonicity","Number of notes"], "axis": null}, "x": {"field": "lo", "type": "quantitative", "axis": {"values": [0, 0.2, 0.4], "format": ".1f", "title": null}}}},
          {"mark": {"type": "tick", "color": "#000000", "thickness": 1.3, "size": 11, "orient": "vertical"},
           "encoding": {"y": {"field": "f", "type": "nominal", "sort": ["Interference","Periodicity/harmonicity","Number of notes"], "axis": null}, "x": {"field": "hi", "type": "quantitative", "axis": {"values": [0, 0.2, 0.4], "format": ".1f", "title": null}}}}
         ]}
      ]}
    ]
  },
  {
    "title": {"text": "B", "anchor": "start", "fontSize": 21, "fontWeight": "bold", "offset": -6},
    "spacing": 0,
    "hconcat": [
      {"width": 22, "height": 1, "data": {"values": []}, "mark": "point", "view": {"stroke": null}},
      {"columns": 3, "align": "each", "bounds": "flush", "spacing": {"row": 18, "column": 19}, "concat": [
        {"title": {"text": "Classical", "offset": 8}, "width": 151, "height": 150, "layer": [
          {"data": {"name": "cCI"}, "mark": {"type": "area", "color": "#e3b4a0", "interpolate": "monotone"},
           "encoding": {"x": {"field": "x", "type": "quantitative", "scale": {"domain": [-2.2, 2.2], "nice": false}, "axis": null}, "y": {"field": "lo", "type": "quantitative", "scale": {"domain": [-3.06, 4.43], "nice": false, "zero": false}, "axis": {"values": [-2, 0, 2, 4], "title": null}}, "y2": {"field": "hi"}}},
          {"data": {"name": "cCI"}, "mark": {"type": "line", "color": "#000000", "strokeWidth": 1.6, "interpolate": "monotone"},
           "encoding": {"x": {"field": "x", "type": "quantitative", "axis": null}, "y": {"field": "y", "type": "quantitative", "axis": {"values": [-2, 0, 2, 4], "title": null}}}},
          {"data": {"name": "rCI"}, "mark": {"type": "rule", "color": "#c0392b", "opacity": 0.65, "strokeWidth": 1.3},
           "encoding": {"x": {"field": "x", "type": "quantitative", "axis": null}, "y": {"datum": -3.06, "type": "quantitative", "axis": {"values": [-2, 0, 2, 4], "title": null}}, "y2": {"datum": -2.835}}}
        ]},
        {"title": {"text": "Jazz", "offset": 8}, "width": 151, "height": 150, "layer": [
          {"data": {"name": "cJI"}, "mark": {"type": "area", "color": "#e3b4a0", "interpolate": "monotone"},
           "encoding": {"x": {"field": "x", "type": "quantitative", "scale": {"domain": [-2.2, 2.2], "nice": false}, "axis": null}, "y": {"field": "lo", "type": "quantitative", "scale": {"domain": [-3.06, 4.43], "nice": false, "zero": false}, "axis": null}, "y2": {"field": "hi"}}},
          {"data": {"name": "cJI"}, "mark": {"type": "line", "color": "#000000", "strokeWidth": 1.6, "interpolate": "monotone"},
           "encoding": {"x": {"field": "x", "type": "quantitative", "axis": null}, "y": {"field": "y", "type": "quantitative", "axis": null}}},
          {"data": {"name": "rJI"}, "mark": {"type": "rule", "color": "#c0392b", "opacity": 0.5, "strokeWidth": 1.2},
           "encoding": {"x": {"field": "x", "type": "quantitative", "axis": null}, "y": {"datum": -3.06, "type": "quantitative", "axis": null}, "y2": {"datum": -2.835}}}
        ]},
        {"title": {"text": "Popular", "offset": 8}, "width": 151, "height": 150, "layer": [
          {"data": {"name": "cPI"}, "mark": {"type": "area", "color": "#e3b4a0", "interpolate": "monotone"},
           "encoding": {"x": {"field": "x", "type": "quantitative", "scale": {"domain": [-2.2, 2.2], "nice": false}, "axis": null}, "y": {"field": "lo", "type": "quantitative", "scale": {"domain": [-3.06, 4.43], "nice": false, "zero": false}, "axis": {"orient": "right", "title": "Interference", "labels": false, "ticks": false, "titlePadding": 6, "titleFontSize": 14}}, "y2": {"field": "hi"}}},
          {"data": {"name": "cPI"}, "mark": {"type": "line", "color": "#000000", "strokeWidth": 1.6, "interpolate": "monotone"},
           "encoding": {"x": {"field": "x", "type": "quantitative", "axis": null}, "y": {"field": "y", "type": "quantitative", "axis": {"orient": "right", "title": "Interference", "labels": false, "ticks": false, "titlePadding": 6, "titleFontSize": 14}}}},
          {"data": {"name": "rPI"}, "mark": {"type": "rule", "color": "#c0392b", "opacity": 0.5, "strokeWidth": 1.2},
           "encoding": {"x": {"field": "x", "type": "quantitative", "axis": null}, "y": {"datum": -3.06, "type": "quantitative", "axis": {"orient": "right", "title": "Interference", "labels": false, "ticks": false, "titlePadding": 6, "titleFontSize": 14}}, "y2": {"datum": -2.835}}}
        ]},
        {"width": 151, "height": 150, "layer": [
          {"data": {"name": "cCH"}, "mark": {"type": "area", "color": "#c5d7ef", "interpolate": "monotone"},
           "encoding": {"x": {"field": "x", "type": "quantitative", "scale": {"domain": [-2.2, 2.2], "nice": false}, "axis": null}, "y": {"field": "lo", "type": "quantitative", "scale": {"domain": [-1.42, 0.82], "nice": false, "zero": false}, "axis": {"values": [-1, -0.5, 0, 0.5], "format": ".1f", "title": "Chord frequency (marginal prediction)", "titlePadding": 6}}, "y2": {"field": "hi"}}},
          {"data": {"name": "cCH"}, "mark": {"type": "line", "color": "#000000", "strokeWidth": 1.6, "interpolate": "monotone"},
           "encoding": {"x": {"field": "x", "type": "quantitative", "axis": null}, "y": {"field": "y", "type": "quantitative", "axis": {"values": [-1, -0.5, 0, 0.5], "format": ".1f", "title": "Chord frequency (marginal prediction)", "titlePadding": 6}}}},
          {"data": {"name": "rCH"}, "mark": {"type": "rule", "color": "#3a7dc9", "opacity": 0.6, "strokeWidth": 1.3},
           "encoding": {"x": {"field": "x", "type": "quantitative", "axis": null}, "y": {"datum": -1.42, "type": "quantitative", "axis": {"values": [-1, -0.5, 0, 0.5], "format": ".1f", "title": "Chord frequency (marginal prediction)", "titlePadding": 6}}, "y2": {"datum": -1.353}}}
        ]},
        {"width": 151, "height": 150, "layer": [
          {"data": {"name": "cJH"}, "mark": {"type": "area", "color": "#c5d7ef", "interpolate": "monotone"},
           "encoding": {"x": {"field": "x", "type": "quantitative", "scale": {"domain": [-2.2, 2.2], "nice": false}, "axis": null}, "y": {"field": "lo", "type": "quantitative", "scale": {"domain": [-1.42, 0.82], "nice": false, "zero": false}, "axis": null}, "y2": {"field": "hi"}}},
          {"data": {"name": "cJH"}, "mark": {"type": "line", "color": "#000000", "strokeWidth": 1.6, "interpolate": "monotone"},
           "encoding": {"x": {"field": "x", "type": "quantitative", "axis": null}, "y": {"field": "y", "type": "quantitative", "axis": null}}},
          {"data": {"name": "rJH"}, "mark": {"type": "rule", "color": "#3a7dc9", "opacity": 0.5, "strokeWidth": 1.2},
           "encoding": {"x": {"field": "x", "type": "quantitative", "axis": null}, "y": {"datum": -1.42, "type": "quantitative", "axis": null}, "y2": {"datum": -1.353}}}
        ]},
        {"width": 151, "height": 150, "layer": [
          {"data": {"name": "cPH"}, "mark": {"type": "area", "color": "#c5d7ef", "interpolate": "monotone"},
           "encoding": {"x": {"field": "x", "type": "quantitative", "scale": {"domain": [-2.2, 2.2], "nice": false}, "axis": null}, "y": {"field": "lo", "type": "quantitative", "scale": {"domain": [-1.42, 0.82], "nice": false, "zero": false}, "axis": {"orient": "right", "title": "Periodicity/harmonicity", "labels": false, "ticks": false, "titlePadding": 6, "titleFontSize": 14}}, "y2": {"field": "hi"}}},
          {"data": {"name": "cPH"}, "mark": {"type": "line", "color": "#000000", "strokeWidth": 1.6, "interpolate": "monotone"},
           "encoding": {"x": {"field": "x", "type": "quantitative", "axis": null}, "y": {"field": "y", "type": "quantitative", "axis": {"orient": "right", "title": "Periodicity/harmonicity", "labels": false, "ticks": false, "titlePadding": 6, "titleFontSize": 14}}}},
          {"data": {"name": "rPH"}, "mark": {"type": "rule", "color": "#3a7dc9", "opacity": 0.5, "strokeWidth": 1.2},
           "encoding": {"x": {"field": "x", "type": "quantitative", "axis": null}, "y": {"datum": -1.42, "type": "quantitative", "axis": {"orient": "right", "title": "Periodicity/harmonicity", "labels": false, "ticks": false, "titlePadding": 6, "titleFontSize": 14}}, "y2": {"datum": -1.353}}}
        ]},
        {"width": 151, "height": 150, "layer": [
          {"data": {"name": "cCN"}, "mark": {"type": "area", "color": "#a3a3a3", "interpolate": "monotone"},
           "encoding": {"x": {"field": "x", "type": "quantitative", "scale": {"domain": [-2.2, 2.2], "nice": false}, "axis": {"values": [-2, -1, 0, 1, 2], "title": null}}, "y": {"field": "lo", "type": "quantitative", "scale": {"domain": [-3.01, 1.81], "nice": false, "zero": false}, "axis": {"values": [-3, -2, -1, 0, 1], "title": null}}, "y2": {"field": "hi"}}},
          {"data": {"name": "cCN"}, "mark": {"type": "line", "color": "#000000", "strokeWidth": 1.6, "interpolate": "monotone"},
           "encoding": {"x": {"field": "x", "type": "quantitative", "axis": {"values": [-2, -1, 0, 1, 2], "title": null}}, "y": {"field": "y", "type": "quantitative", "axis": {"values": [-3, -2, -1, 0, 1], "title": null}}}},
          {"data": {"name": "rCN"}, "mark": {"type": "rule", "color": "#111111", "opacity": 0.5, "strokeWidth": 1.3},
           "encoding": {"x": {"field": "x", "type": "quantitative", "axis": {"values": [-2, -1, 0, 1, 2], "title": null}}, "y": {"datum": -3.01, "type": "quantitative", "axis": {"values": [-3, -2, -1, 0, 1], "title": null}}, "y2": {"datum": -2.865}}}
        ]},
        {"width": 151, "height": 150, "layer": [
          {"data": {"name": "cJN"}, "mark": {"type": "area", "color": "#a3a3a3", "interpolate": "monotone"},
           "encoding": {"x": {"field": "x", "type": "quantitative", "scale": {"domain": [-2.2, 2.2], "nice": false}, "axis": {"values": [-2, -1, 0, 1, 2], "title": "Feature value"}}, "y": {"field": "lo", "type": "quantitative", "scale": {"domain": [-3.01, 1.81], "nice": false, "zero": false}, "axis": null}, "y2": {"field": "hi"}}},
          {"data": {"name": "cJN"}, "mark": {"type": "line", "color": "#000000", "strokeWidth": 1.6, "interpolate": "monotone"},
           "encoding": {"x": {"field": "x", "type": "quantitative", "axis": {"values": [-2, -1, 0, 1, 2], "title": "Feature value"}}, "y": {"field": "y", "type": "quantitative", "axis": null}}},
          {"data": {"name": "rJN"}, "mark": {"type": "rule", "color": "#111111", "opacity": 0.4, "strokeWidth": 1.2},
           "encoding": {"x": {"field": "x", "type": "quantitative", "axis": {"values": [-2, -1, 0, 1, 2], "title": "Feature value"}}, "y": {"datum": -3.01, "type": "quantitative", "axis": null}, "y2": {"datum": -2.865}}}
        ]},
        {"width": 151, "height": 150, "layer": [
          {"data": {"name": "cPN"}, "mark": {"type": "area", "color": "#a3a3a3", "interpolate": "monotone"},
           "encoding": {"x": {"field": "x", "type": "quantitative", "scale": {"domain": [-2.2, 2.2], "nice": false}, "axis": {"values": [-2, -1, 0, 1, 2], "title": null}}, "y": {"field": "lo", "type": "quantitative", "scale": {"domain": [-3.01, 1.81], "nice": false, "zero": false}, "axis": {"orient": "right", "title": "Number of notes", "labels": false, "ticks": false, "titlePadding": 6, "titleFontSize": 14}}, "y2": {"field": "hi"}}},
          {"data": {"name": "cPN"}, "mark": {"type": "line", "color": "#000000", "strokeWidth": 1.6, "interpolate": "monotone"},
           "encoding": {"x": {"field": "x", "type": "quantitative", "axis": {"values": [-2, -1, 0, 1, 2], "title": null}}, "y": {"field": "y", "type": "quantitative", "axis": {"orient": "right", "title": "Number of notes", "labels": false, "ticks": false, "titlePadding": 6, "titleFontSize": 14}}}},
          {"data": {"name": "rPN"}, "mark": {"type": "rule", "color": "#111111", "opacity": 0.4, "strokeWidth": 1.2},
           "encoding": {"x": {"field": "x", "type": "quantitative", "axis": {"values": [-2, -1, 0, 1, 2], "title": null}}, "y": {"datum": -3.01, "type": "quantitative", "axis": {"orient": "right", "title": "Number of notes", "labels": false, "ticks": false, "titlePadding": 6, "titleFontSize": 14}}, "y2": {"datum": -2.865}}}
        ]}
      ]}
    ]
  },
  {
    "title": {"text": "C", "anchor": "start", "fontSize": 21, "fontWeight": "bold", "offset": 2},
    "spacing": 0,
    "hconcat": [
      {"width": 1, "height": 1, "data": {"values": []}, "mark": "point", "view": {"stroke": null}},
      {"spacing": 13, "hconcat": [
        {"title": {"text": "Classical", "offset": 3.5}, "width": 171, "height": 170, "layer": [
          {"data": {"name": "sC"}, "mark": {"type": "point", "shape": "circle", "filled": false, "color": "#000000", "strokeWidth": 1.1, "size": 32, "opacity": 1},
           "encoding": {"x": {"field": "x", "type": "quantitative", "scale": {"domain": [-1.78, 5.95], "nice": false, "zero": false}, "axis": {"values": [-1, 0, 1, 2, 3, 4, 5], "title": null}},
                        "y": {"field": "y", "type": "quantitative", "scale": {"domain": [-2.18, 6.12], "nice": false, "zero": false}, "axis": {"values": [-2, 0, 2, 4, 6], "title": "Actual frequency", "titlePadding": 4}}}},
          {"data": {"name": "tC"}, "mark": {"type": "text", "fontSize": 17, "fontStyle": "italic", "align": "left", "baseline": "alphabetic"},
           "encoding": {"x": {"datum": -1.24, "type": "quantitative", "axis": {"values": [-1, 0, 1, 2, 3, 4, 5], "title": null}}, "y": {"datum": 5.17, "type": "quantitative", "axis": {"values": [-2, 0, 2, 4, 6], "title": "Actual frequency", "titlePadding": 4}}, "text": {"field": "sym"}}},
          {"data": {"name": "tC"}, "mark": {"type": "text", "fontSize": 17, "align": "left", "baseline": "alphabetic", "dx": 10},
           "encoding": {"x": {"datum": -1.24, "type": "quantitative", "axis": {"values": [-1, 0, 1, 2, 3, 4, 5], "title": null}}, "y": {"datum": 5.17, "type": "quantitative", "axis": {"values": [-2, 0, 2, 4, 6], "title": "Actual frequency", "titlePadding": 4}}, "text": {"field": "t"}}}
        ]},
        {"spacing": 2, "hconcat": [
          {"title": {"text": "Jazz", "offset": 8}, "width": 171, "height": 170, "layer": [
            {"data": {"name": "sJ"}, "mark": {"type": "point", "shape": "circle", "filled": false, "color": "#000000", "strokeWidth": 1, "size": 32, "opacity": 1},
             "encoding": {"x": {"field": "x", "type": "quantitative", "scale": {"domain": [-1.53, 1.30], "nice": false, "zero": false}, "axis": {"values": [-1, 0, 1], "title": "Predicted frequency"}},
                          "y": {"field": "y", "type": "quantitative", "scale": {"domain": [-1.27, 3.15], "nice": false, "zero": false}, "axis": {"values": [-1, 0, 1, 2, 3], "title": null}}}},
            {"data": {"name": "tJ"}, "mark": {"type": "text", "fontSize": 17, "fontStyle": "italic", "align": "left", "baseline": "alphabetic"},
             "encoding": {"x": {"datum": -1.34, "type": "quantitative", "axis": {"values": [-1, 0, 1], "title": "Predicted frequency"}}, "y": {"datum": 2.64, "type": "quantitative", "axis": {"values": [-1, 0, 1, 2, 3], "title": null}}, "text": {"field": "sym"}}},
            {"data": {"name": "tJ"}, "mark": {"type": "text", "fontSize": 17, "align": "left", "baseline": "alphabetic", "dx": 10},
             "encoding": {"x": {"datum": -1.34, "type": "quantitative", "axis": {"values": [-1, 0, 1], "title": "Predicted frequency"}}, "y": {"datum": 2.64, "type": "quantitative", "axis": {"values": [-1, 0, 1, 2, 3], "title": null}}, "text": {"field": "t"}}}
          ]},
          {"title": {"text": "Popular", "offset": 8}, "width": 171, "height": 170, "layer": [
            {"data": {"name": "sP"}, "mark": {"type": "point", "shape": "circle", "filled": false, "color": "#000000", "strokeWidth": 1, "size": 32, "opacity": 1},
             "encoding": {"x": {"field": "x", "type": "quantitative", "scale": {"domain": [-1.64, 2.45], "nice": false, "zero": false}, "axis": {"values": [-1, 0, 1, 2], "title": null}},
                          "y": {"field": "y", "type": "quantitative", "scale": {"domain": [-1.38, 3.62], "nice": false, "zero": false}, "axis": {"values": [-1, 0, 1, 2, 3], "title": null}}}},
            {"data": {"name": "tP"}, "mark": {"type": "text", "fontSize": 17, "fontStyle": "italic", "align": "left", "baseline": "alphabetic"},
             "encoding": {"x": {"datum": -1.36, "type": "quantitative", "axis": {"values": [-1, 0, 1, 2], "title": null}}, "y": {"datum": 3.08, "type": "quantitative", "axis": {"values": [-1, 0, 1, 2, 3], "title": null}}, "text": {"field": "sym"}}},
            {"data": {"name": "tP"}, "mark": {"type": "text", "fontSize": 17, "align": "left", "baseline": "alphabetic", "dx": 10},
             "encoding": {"x": {"datum": -1.36, "type": "quantitative", "axis": {"values": [-1, 0, 1, 2], "title": null}}, "y": {"datum": 3.08, "type": "quantitative", "axis": {"values": [-1, 0, 1, 2, 3], "title": null}}, "text": {"field": "t"}}}
          ]}
        ]}
      ]}
    ]
  }
]
}
